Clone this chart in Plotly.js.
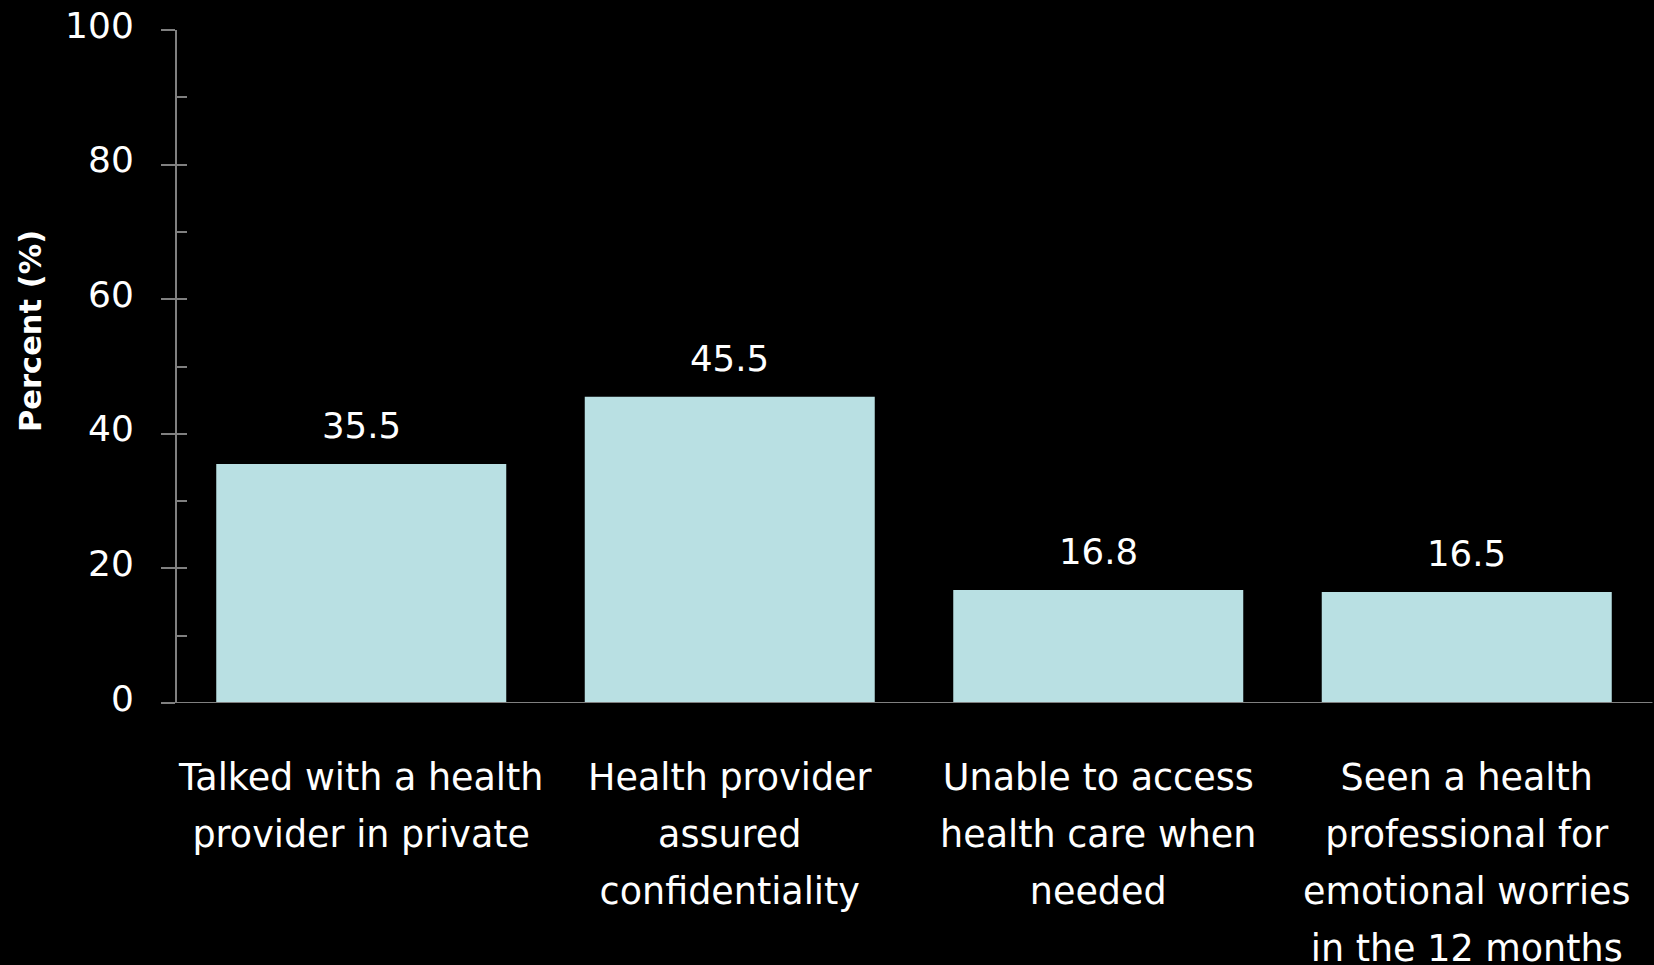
<!DOCTYPE html>
<html>
<head>
<meta charset="utf-8">
<script src="https://cdn.plot.ly/plotly-3.0.1.min.js"></script>
<style>html,body{margin:0;padding:0;background:#000;}#chart{width:1654px;height:965px;}</style>
</head>
<body>
<div id="chart"></div>
<script>
const categories = [
  "Talked with a health<br>provider in private",
  "Health provider<br>assured<br>confidentiality",
  "Unable to access<br>health care when<br>needed",
  "Seen a health<br>professional for<br>emotional worries<br>in the 12 months"
];
const values = [35.5, 45.5, 16.8, 16.5];
const yTickVals = [0, 20, 40, 60, 80, 100];
const yTitle = "Percent (%)";

const FONT = "DejaVu Sans";
const AXIS_COLOR = "#808080";
const lines = categories.map(c => c.split("<br>"));
const maxLines = Math.max(...lines.map(l => l.length));
const LINE_GAP = 57;
const FIRST_STANDOFF = 49;

const trace = {
  type: "bar",
  x: categories.map((c, i) => i),
  y: values,
  customdata: categories,
  marker: {color: "#b9e0e3"},
  hoverinfo: "skip"
};

const layout = {
  width: 1654, height: 965,
  paper_bgcolor: "#000", plot_bgcolor: "#000",
  margin: {l: 177, r: 3, t: 30, b: 262},
  showlegend: false,
  bargap: 0.213,
  font: {family: FONT, color: "#fff", size: 35},
  yaxis: {
    range: [0, 100], tickmode: "array", tickvals: yTickVals,
    ticks: "outside", ticklen: 14, tickwidth: 2, tickcolor: AXIS_COLOR,
    showline: true, linecolor: AXIS_COLOR, linewidth: 2,
    showgrid: false, zeroline: false,
    tickfont: {family: FONT, size: 36, color: "#fff"},
    ticklabelstandoff: 20, ticklabelshift: -5
  },
  yaxis2: {
    overlaying: "y", anchor: "x", side: "left",
    range: [0, 100], tickmode: "linear", tick0: 0, dtick: 10,
    ticks: "inside", ticklen: 10, tickwidth: 2, tickcolor: AXIS_COLOR,
    showticklabels: false, showgrid: false, zeroline: false, showline: false
  },
  annotations: [],
  shapes: [{
    type: "line", xref: "paper", yref: "y",
    x0: -14 / 1474, x1: 1.001, y0: 0, y1: 0,
    line: {color: AXIS_COLOR, width: 2}
  }]
};

for (let k = 0; k < maxLines; k++) {
  const name = k === 0 ? "xaxis" : "xaxis" + (k + 1);
  const tv = [], tt = [];
  lines.forEach((l, i) => { if (l[k] !== undefined) { tv.push(i); tt.push(l[k]); } });
  const ax = {
    type: "linear", range: [-0.5, categories.length - 0.5],
    tickmode: "array", tickvals: tv, ticktext: tt,
    ticks: "", showline: false, showgrid: false, zeroline: false,
    tickfont: {family: FONT, size: 36.5, color: "#fff"},
    ticklabelstandoff: FIRST_STANDOFF + k * LINE_GAP,
    fixedrange: true
  };
  if (k > 0) { ax.overlaying = "x"; ax.anchor = "y"; ax.side = "bottom"; }
  layout[name] = ax;
}

values.forEach((v, i) => {
  layout.annotations.push({
    x: i, y: v, xref: "x", yref: "y",
    text: v.toFixed(1), showarrow: false, yanchor: "bottom",
    yshift: 16, font: {family: FONT, size: 35.5, color: "#fff"}
  });
});

layout.annotations.push({
  xref: "paper", yref: "paper",
  x: (30 - 177) / 1474, y: (703 - 331) / 673,
  xanchor: "center", yanchor: "middle", textangle: -90,
  text: yTitle, showarrow: false,
  font: {family: FONT, size: 30.5, color: "#fff", weight: "bold"}
});

const dummy = [];
for (let k = 1; k < maxLines; k++) {
  dummy.push({type: "scatter", x: [], y: [], xaxis: "x" + (k + 1), yaxis: "y", hoverinfo: "skip", showlegend: false});
}
dummy.push({type: "scatter", x: [], y: [], xaxis: "x", yaxis: "y2", hoverinfo: "skip", showlegend: false});

Plotly.newPlot("chart", [trace].concat(dummy), layout, {displayModeBar: false, staticPlot: true});
</script>
</body>
</html>
